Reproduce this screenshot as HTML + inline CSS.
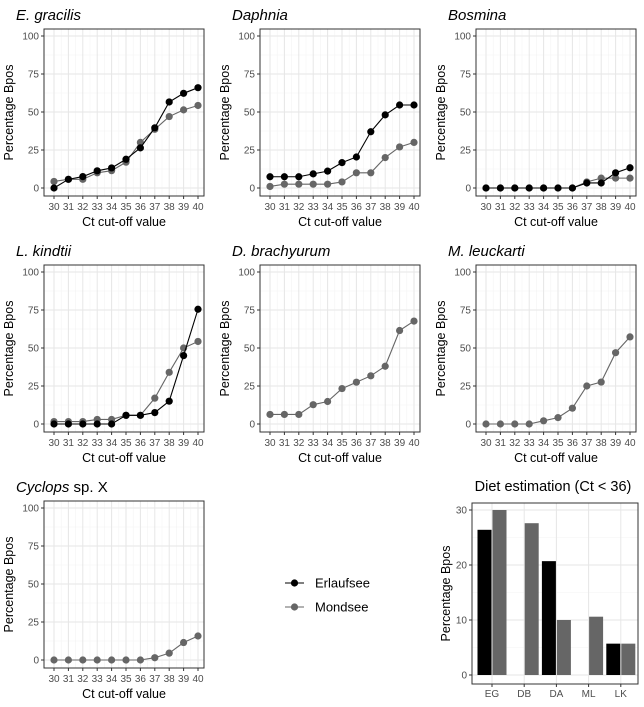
<!DOCTYPE html>
<html><head><meta charset="utf-8"><style>
html,body{margin:0;padding:0;background:#fff;}
svg{display:block;font-family:"Liberation Sans",Arial,sans-serif;}
</style></head><body>
<svg id="fig" width="644" height="707" viewBox="0 0 644 707" xmlns="http://www.w3.org/2000/svg"></svg>
<script>
const ctValues = [30,31,32,33,34,35,36,37,38,39,40];
const yTicks = [0,25,50,75,100];
const panelTitles = ["E. gracilis","Daphnia","Bosmina","L. kindtii","D. brachyurum","M. leuckarti","Cyclops"];
const erlaufEG = [0,5.7,7.5,11.3,13.2,18.9,26.4,39.6,56.6,62.3,66];
const mondEG = [4.3,5.7,5.7,10,11.4,17,30,38.6,47,51.4,54.3];
const erlaufDA = [7.4,7.4,7.4,9.3,11.1,16.7,20.4,37,48.1,54.6,54.6];
const mondDA = [1,2.5,2.5,2.5,2.5,4,10,10,20,27,30];
const erlaufBO = [0,0,0,0,0,0,0,3.3,3.3,10,13.3];
const mondBO = [0,0,0,0,0,0,0,4,6.5,6.5,6.5];
const erlaufLK = [0,0,0,0,0,5.7,5.7,7.5,15,45,75.5];
const mondLK = [1.6,1.6,1.6,3,3,5.7,5.7,17,34,50,54.3];
const mondDB = [6.3,6.3,6.3,12.7,14.8,23.3,27.5,31.7,38,61.5,67.7];
const mondML = [0,0,0,0,2.1,4.2,10.4,25,27.6,46.9,57.3];
const mondCY = [0,0,0,0,0,0,0,1.5,4.5,11.5,15.8];
const barCategories = ["EG","DB","DA","ML","LK"];
const barErlauf = [26.4,null,20.7,null,5.7];
const barMond = [30,27.6,10,10.6,5.7];
const barTicks = [0,10,20,30];

const svg = document.getElementById('fig');
const NS = "http://www.w3.org/2000/svg";
function mk(tag, attrs, parent){const e=document.createElementNS(NS,tag);for(const k in attrs)e.setAttribute(k,attrs[k]);(parent||svg).appendChild(e);return e;}
const BLACK="#000", GREY="#666";

const panels = [
 {col:0,row:0,series:[[erlaufEG,BLACK],[mondEG,GREY]]},
 {col:1,row:0,series:[[erlaufDA,BLACK],[mondDA,GREY]]},
 {col:2,row:0,series:[[erlaufBO,BLACK],[mondBO,GREY]]},
 {col:0,row:1,series:[[erlaufLK,BLACK],[mondLK,GREY]]},
 {col:1,row:1,series:[[mondDB,GREY]]},
 {col:2,row:1,series:[[mondML,GREY]]},
 {col:0,row:2,series:[[mondCY,GREY]]}
];
panels.forEach((p,i)=>{
  const ox=p.col*216, oy=p.row*236;
  const L=44+ox,R=204+ox,T=29+oy,B=196+oy;
  const xs=v=>54+ox+(v-30)*14.4;
  const ys=v=>188+oy-v*1.52;
  const g=mk('g',{});
  
  
  for(let m=12.5;m<100;m+=25) mk('line',{x1:L,x2:R,y1:ys(m),y2:ys(m),stroke:'#f3f3f3','stroke-width':0.6},g);
  for(let m=30.5;m<40;m+=1) mk('line',{x1:xs(m),x2:xs(m),y1:T,y2:B,stroke:'#f3f3f3','stroke-width':0.6},g);
  yTicks.forEach(t=>{
    mk('line',{x1:L,x2:R,y1:ys(t),y2:ys(t),stroke:'#e6e6e6','stroke-width':1},g);
    mk('line',{x1:L-3,x2:L,y1:ys(t),y2:ys(t),stroke:'#333','stroke-width':1},g);
    const tx=mk('text',{x:L-5,y:ys(t)+3.5,'text-anchor':'end','font-size':10,fill:'#4d4d4d'},g);tx.textContent=t;
  });
  ctValues.forEach(c=>{
    mk('line',{x1:xs(c),x2:xs(c),y1:T,y2:B,stroke:'#e6e6e6','stroke-width':1},g);
    mk('line',{x1:xs(c),x2:xs(c),y1:B,y2:B+3,stroke:'#333','stroke-width':1},g);
    const tx=mk('text',{x:xs(c),y:B+14,'text-anchor':'middle','font-size':10,fill:'#4d4d4d'},g);tx.textContent=c;
  });
  mk('rect',{x:L,y:T,width:R-L,height:B-T,fill:'none',stroke:'#333','stroke-width':1},g);
  const xt=mk('text',{x:(L+R)/2,y:B+30,'text-anchor':'middle','font-size':12.5,fill:'#000'},g);xt.textContent='Ct cut-off value';
  
  const yt=mk('text',{x:0,y:0,transform:`translate(${L-31},${(T+B)/2}) rotate(-90)`,'text-anchor':'middle','font-size':12.5,fill:'#000'},g);yt.textContent='Percentage Bpos';
  
  const tt=mk('text',{x:16+ox,y:20+oy,'font-size':15,fill:'#000'},g);
  
  if(panelTitles[i]==='Cyclops'){const a=mk('tspan',{'font-style':'italic'},tt);a.textContent='Cyclops';const b=mk('tspan',{},tt);b.textContent=' sp. X';}
  else {tt.setAttribute('font-style','italic');tt.textContent=panelTitles[i];}
  p.series.slice().reverse().forEach(([vals,col])=>{
    mk('polyline',{points:vals.map((v,k)=>xs(ctValues[k])+','+ys(v)).join(' '),fill:'none',stroke:col,'stroke-width':1.1},g);
    vals.forEach((v,k)=>{
      const c=mk('circle',{cx:xs(ctValues[k]),cy:ys(v),r:3.6,fill:col},g);
      
      
    });
  });
});

// Legend
const lg=mk('g',{});


[["Erlaufsee",BLACK,583],["Mondsee",GREY,607]].forEach(([n,c,y])=>{
  mk('line',{x1:285,x2:304,y1:y,y2:y,stroke:c,'stroke-width':1.1},lg);
  mk('circle',{cx:294.5,cy:y,r:3.6,fill:c},lg);
  const t=mk('text',{x:315,y:y+4.5,'font-size':13,fill:'#000'},lg);t.textContent=n;
  
});

// Bar chart
const bg=mk('g',{});


const bL=472,bR=638,bT=503,bB=684;
const bys=v=>675-v*5.5;
const bxs=i=>492+i*32.2;
for(let m=5;m<32;m+=10) mk('line',{x1:bL,x2:bR,y1:bys(m),y2:bys(m),stroke:'#f3f3f3','stroke-width':0.6},bg);
barTicks.forEach(t=>{
  mk('line',{x1:bL,x2:bR,y1:bys(t),y2:bys(t),stroke:'#e6e6e6','stroke-width':1},bg);
  mk('line',{x1:bL-3,x2:bL,y1:bys(t),y2:bys(t),stroke:'#333'},bg);
  const tx=mk('text',{x:bL-5,y:bys(t)+3.5,'text-anchor':'end','font-size':10,fill:'#4d4d4d'},bg);tx.textContent=t;
});
barCategories.forEach((c,i)=>{
  mk('line',{x1:bxs(i),x2:bxs(i),y1:bT,y2:bB,stroke:'#e6e6e6','stroke-width':1},bg);
  mk('line',{x1:bxs(i),x2:bxs(i),y1:bB,y2:bB+3,stroke:'#333'},bg);
  const tx=mk('text',{x:bxs(i),y:bB+13,'text-anchor':'middle','font-size':10,fill:'#4d4d4d'},bg);tx.textContent=c;
});
barCategories.forEach((c,i)=>{
  if(barErlauf[i]!==null){
    const r=mk('rect',{x:bxs(i)-14.5,y:bys(barErlauf[i]),width:14,height:bys(0)-bys(barErlauf[i]),fill:BLACK},bg);
    
    
  }
  const r2=mk('rect',{x:bxs(i)+0.5,y:bys(barMond[i]),width:14,height:bys(0)-bys(barMond[i]),fill:GREY},bg);
  
  
});
mk('rect',{x:bL,y:bT,width:bR-bL,height:bB-bT,fill:'none',stroke:'#333','stroke-width':1},bg);
const byt=mk('text',{x:0,y:0,transform:`translate(450,${(bT+bB)/2}) rotate(-90)`,'text-anchor':'middle','font-size':12.5,fill:'#000'},bg);byt.textContent='Percentage Bpos';

const btt=mk('text',{x:553,y:491,'text-anchor':'middle','font-size':14.5,fill:'#000'},bg);btt.textContent='Diet estimation (Ct < 36)';

</script>
</body></html>
